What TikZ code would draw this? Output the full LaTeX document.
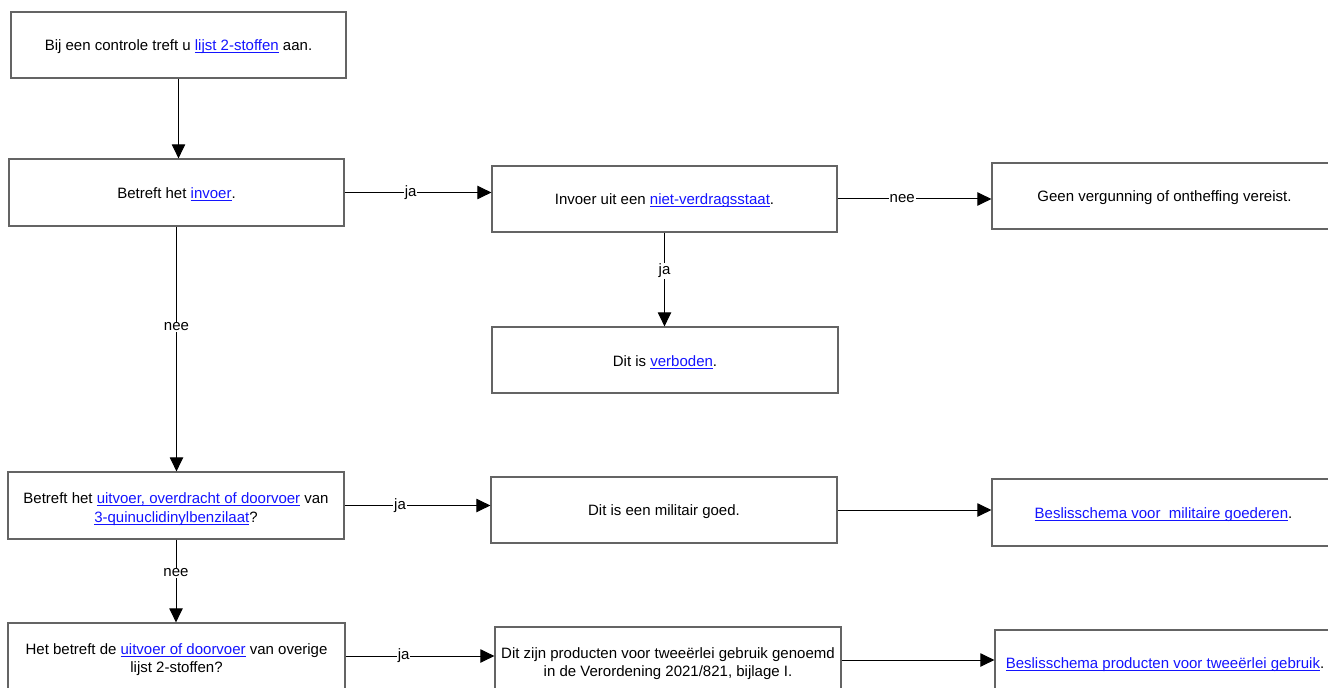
\documentclass[tikz,border=0pt]{standalone}
\usepackage{fontspec}
\setmainfont{Liberation Sans}
\usetikzlibrary{arrows.meta}
\definecolor{linkblue}{RGB}{20,20,255}
\definecolor{boxgray}{RGB}{100,100,100}
\newcommand{\lnk}[1]{{\color{linkblue}\setbox0\hbox{#1}\rlap{\rule[-1.7pt]{\wd0}{0.6pt}}\box0}}
\newcommand{\topstrut}{\rule{0pt}{13.5pt}}
\tikzset{
  box/.style={draw=boxgray, line width=0.9pt, fill=white, inner sep=0pt, align=center,
    font=\fontsize{11.25pt}{13.9pt}\selectfont,
    execute at begin node={\rule{0pt}{11.3pt}}},
  arr/.style={draw=black, line width=0.75pt, -{Triangle[length=10.5pt,width=10pt]}},
  lbl/.style={fill=white, inner sep=0.6pt, font=\fontsize{11.25pt}{13.8pt}\selectfont}
}
\begin{document}
\begin{tikzpicture}[x=0.75pt,y=-0.75pt]
\clip (0,0) rectangle (1328,688);
\fill[white] (0,0) rectangle (1328,688);

\node[box, minimum width=251.25pt, minimum height=49.5pt] (n1) at (178.5,45)
  {Bij een controle treft u \lnk{lijst 2-stoffen} aan.};
\node[box, minimum width=251.25pt, minimum height=50.25pt] (n2) at (176.5,192.5)
  {Betreft het \lnk{invoer}.};
\node[box, minimum width=258.75pt, minimum height=49.5pt] (n3) at (664.5,199)
  {Invoer uit een \lnk{niet-verdragsstaat}.};
\node[box, minimum width=258.75pt, minimum height=49.5pt] (n4) at (1164.5,196)
  {Geen vergunning of ontheffing vereist.};
\node[box, minimum width=259.5pt, minimum height=49.5pt] (n5) at (665,360)
  {Dit is \lnk{verboden}.};
\node[box, minimum width=252pt, minimum height=50.25pt] (n6) at (176,505.5)
  {\topstrut Betreft het \lnk{uitvoer, overdracht of doorvoer} van\\\lnk{3-quinuclidinylbenzilaat}?};
\node[box, minimum width=259.5pt, minimum height=49.5pt] (n7) at (664,510)
  {Dit is een militair goed.};
\node[box, minimum width=257.25pt, minimum height=50.25pt] (n8) at (1163.5,512.5)
  {\lnk{Beslisschema voor\ \ militaire goederen}.};
\node[box, minimum width=252.75pt, minimum height=49.5pt] (n9) at (176.5,656)
  {\topstrut Het betreft de \lnk{uitvoer of doorvoer} van overige\\lijst 2-stoffen?};
\node[box, minimum width=259.5pt, minimum height=49.5pt] (n10) at (668,660)
  {\topstrut Dit zijn producten voor tweeërlei gebruik genoemd\\in de Verordening 2021/821, bijlage I.};
\node[box, minimum width=255pt, minimum height=49.5pt] (n11) at (1165,663)
  {\lnk{Beslisschema producten voor tweeërlei gebruik}.};

\draw[arr] (n1.south) -- (n1.south |- n2.north);
\draw[arr] (n2.east) -- (n2.east -| n3.west) node[lbl,pos=0.45]{ja};
\draw[arr] (n3.east) -- (n3.east -| n4.west) node[lbl,pos=0.42]{nee};
\draw[arr] (n3.south) -- (n3.south |- n5.north) node[lbl,pos=0.41]{ja};
\draw[arr] (n2.south) -- (n2.south |- n6.north) node[lbl,pos=0.41]{nee};
\draw[arr] (n6.east) -- (n6.east -| n7.west) node[lbl,pos=0.38]{ja};
\draw[arr] (n7.east) -- (n7.east -| n8.west);
\draw[arr] (n6.south) -- (n6.south |- n9.north) node[lbl,pos=0.4]{nee};
\draw[arr] (n9.east) -- (n9.east -| n10.west) node[lbl,pos=0.39]{ja};
\draw[arr] (n10.east) -- (n10.east -| n11.west);
\end{tikzpicture}
\end{document}
